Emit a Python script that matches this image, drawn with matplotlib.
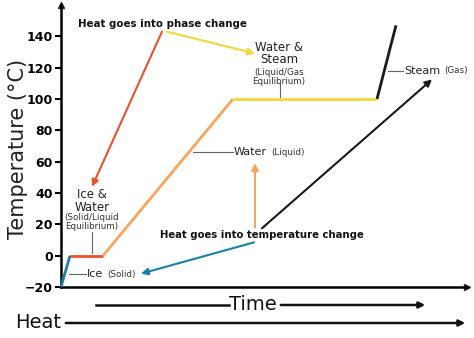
import matplotlib.pyplot as plt
from matplotlib.patches import FancyArrowPatch

# heating curve of water: time (arbitrary units) vs temperature
time = [0, 9, 42, 172, 316, 335]
temp = [-20, 0, 0, 100, 100, 147]
seg_colors = ['#1b7fa6', '#e8532b', '#f7a55c', '#f3d63a', '#1a1a1a']
yticks = [-20, 0, 20, 40, 60, 80, 100, 120, 140]

W, H = 474, 338
fig = plt.figure(figsize=(W / 100, H / 100), dpi=100)
ax = fig.add_axes([61 / W, 1 - 287 / H, 406 / W, 282 / H])

# curve segments
for i in range(len(time) - 1):
    ax.plot(time[i:i + 2], temp[i:i + 2], color=seg_colors[i], lw=2,
            solid_capstyle='butt', clip_on=False, zorder=3)

ax.set_xlim(0, 406)
ax.set_ylim(-20, 160)
ax.set_xticks([])
ax.set_yticks(yticks)
ax.tick_params(axis='y', direction='out', length=4, width=1.5,
               labelsize=9, pad=2)
for lab in ax.get_yticklabels():
    lab.set_fontweight('bold')
for s in ['top', 'right']:
    ax.spines[s].set_visible(False)
for s in ['left', 'bottom']:
    ax.spines[s].set_linewidth(1.8)
# axis arrow heads
ax.plot(1, 0, '>', color='#222222', ms=5, transform=ax.transAxes, clip_on=False)
ax.plot(0, 1, '^', color='#222222', ms=5, transform=ax.transAxes, clip_on=False)

ax.set_ylabel('Temperature (°C)', fontsize=15, color='#222222')
ax.yaxis.set_label_coords(-0.082, 0.49)

# pointer arrows
def arrow(x0, y0, x1, y1, c):
    ax.annotate('', xy=(x1, y1), xytext=(x0, y0),
                arrowprops=dict(arrowstyle='-|>', color=c, lw=1.5,
                                mutation_scale=10, shrinkA=0, shrinkB=0),
                annotation_clip=False)

ax.text(101, 148, 'Heat goes into phase change', ha='center', va='center',
        fontsize=7.4, fontweight='bold', color='#111111')
arrow(101, 143, 31, 44, '#e8532b')
arrow(106, 143, 194, 129, '#f3d63a')

ax.text(201, 13, 'Heat goes into temperature change', ha='center',
        va='center', fontsize=7.3, fontweight='bold', color='#111111')
arrow(193, 8.5, 80, -11.5, '#1b7fa6')
arrow(194, 18, 194, 59, '#f7a55c')
arrow(201, 17.5, 371, 112.5, '#1a1a1a')

# phase labels with connector lines
gray = '#666666'

def label(x, y, big, small):
    t = ax.text(x, y, big, ha='left', va='center', fontsize=8, color='#222222')
    ax.annotate(small, xy=(1, 0.5), xycoords=t, xytext=(3, 0),
                textcoords='offset points', ha='left', va='center',
                fontsize=6.3, color='#333333')

ax.plot([219, 219], [110, 101], color=gray, lw=0.8)
ax.text(218, 129, 'Water &\nSteam', ha='center', va='center', fontsize=8.5,
        linespacing=0.95, color='#222222')
ax.text(218, 114, '(Liquid/Gas\nEquilibrium)', ha='center', va='center',
        fontsize=6.3, linespacing=1.0, color='#333333')

ax.plot([327, 342], [118, 118], color=gray, lw=0.8)
label(343, 118, 'Steam', '(Gas)')

ax.plot([132, 172], [66, 66], color=gray, lw=0.8)
label(173, 66, 'Water', '(Liquid)')

ax.plot([31, 31], [15, 2], color=gray, lw=0.8)
ax.text(31, 35, 'Ice &\nWater', ha='center', va='center', fontsize=8.5,
        linespacing=0.95, color='#222222')
ax.text(31, 21.5, '(Solid/Liquid\nEquilibrium)', ha='center', va='center',
        fontsize=6.3, linespacing=1.0, color='#333333')

ax.plot([8, 25], [-12, -12], color=gray, lw=0.8)
label(26, -12, 'Ice', '(Solid)')

# Time and Heat arrows under the axis (figure pixel coords)
def fig_arrow(x0, x1, y):
    fig.add_artist(FancyArrowPatch(
        (x0 / W, 1 - y / H), (x1 / W, 1 - y / H), transform=fig.transFigure,
        arrowstyle='-|>', mutation_scale=9, lw=1.8, color='#111111'))

fig.add_artist(plt.Line2D([96 / W, 229 / W], [1 - 305 / H] * 2, lw=1.8,
                          color='#111111'))
fig.text(253 / W, 1 - 305 / H, 'Time', ha='center', va='center', fontsize=14,
         color='#111111')
fig_arrow(278, 428, 305)
fig.text(38 / W, 1 - 323 / H, 'Heat', ha='center', va='center', fontsize=14,
         color='#111111')
fig_arrow(63, 468, 323)

plt.savefig('out.png', dpi=100)
